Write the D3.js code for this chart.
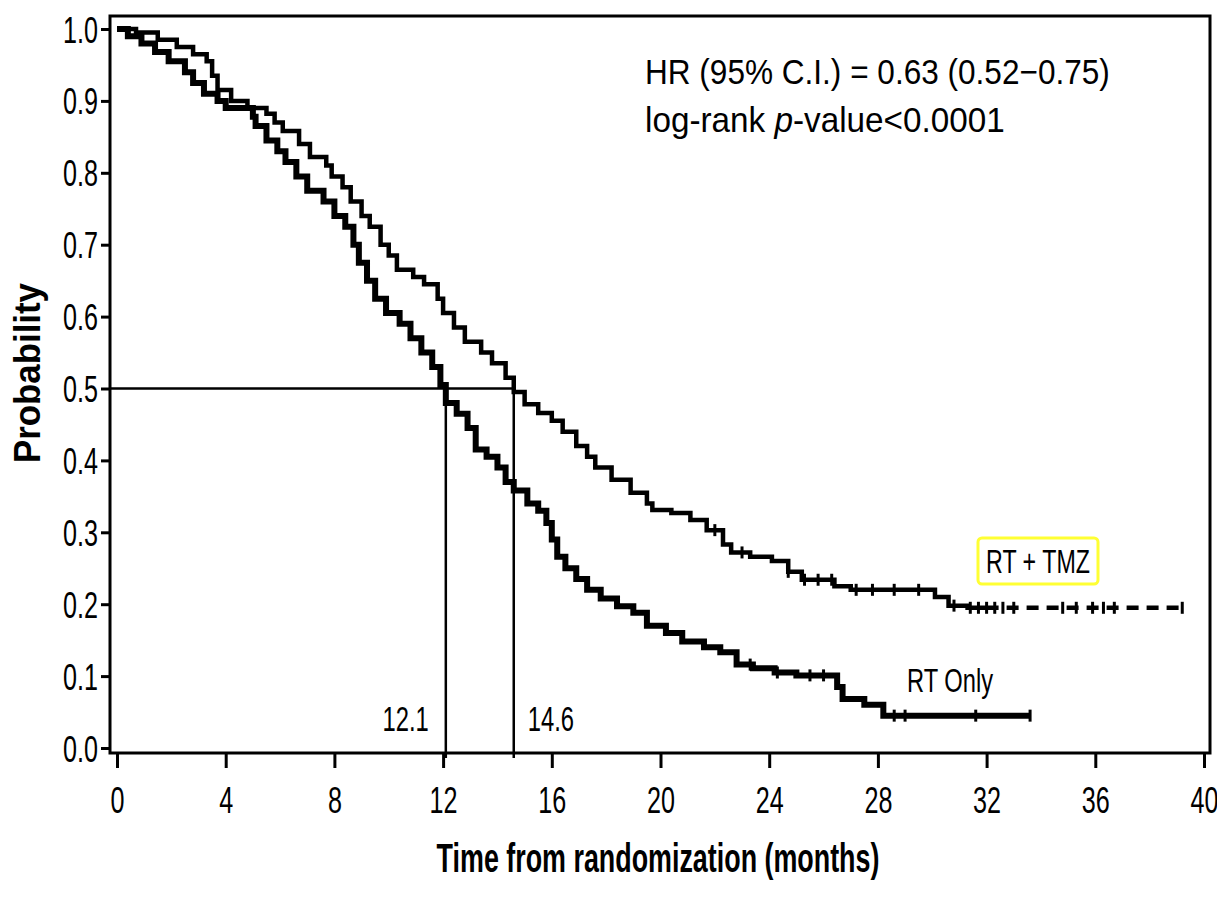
<!DOCTYPE html>
<html>
<head>
<meta charset="utf-8">
<script src="https://cdn.jsdelivr.net/npm/d3@7"></script>
<style>
  body { margin: 0; background: #fff; }
  text { font-family: "Liberation Sans", Arial, sans-serif; fill: #000; }
</style>
</head>
<body>
<div id="chart"></div>
<script>
// Kaplan-Meier steps (time in months, survival after the step)
var tmzTimes = [0, 0.7, 1.5, 2.2, 2.8, 3.3, 3.5, 3.7, 4.2, 4.8, 5.5, 5.8, 6.1, 6.7, 7.1, 7.7, 7.9, 8.3, 8.6,
    9.0, 9.3, 9.7, 10.0, 10.3, 10.9, 11.3, 11.8, 12.0, 12.4, 12.8, 13.4, 13.8, 14.3, 14.6, 15.0, 15.5, 16.0, 16.4, 16.9,
    17.3, 17.6, 18.2, 18.9, 19.5, 19.7, 20.4, 21.1, 21.7, 22.3, 22.6, 23.3, 24.1, 24.7, 25.2, 26.4, 27.0, 30.1, 30.6, 31.3, 39.3];
var tmzSurv = [1.0, 0.995, 0.985, 0.975, 0.965, 0.955, 0.935, 0.915, 0.9, 0.89, 0.882, 0.87, 0.858, 0.84, 0.822, 0.81, 0.795, 0.78, 0.76,
    0.74, 0.725, 0.7, 0.685, 0.665, 0.655, 0.645, 0.625, 0.605, 0.585, 0.565, 0.55, 0.535, 0.515, 0.495, 0.478, 0.466, 0.455, 0.44, 0.42,
    0.405, 0.39, 0.373, 0.355, 0.34, 0.331, 0.327, 0.317, 0.303, 0.283, 0.272, 0.266, 0.26, 0.245, 0.234, 0.225, 0.22, 0.21, 0.198, 0.195, 0.195];
var tmzCensored = [22.0, 23.0, 24.7, 25.3, 25.8, 26.3, 27.2, 27.8, 28.6, 29.5, 30.8, 31.4, 31.7, 32.0, 32.3, 32.6, 33.0,
    34.8, 35.3, 35.9, 36.3, 36.7, 39.2];

var rtTimes = [0, 0.4, 0.9, 1.4, 1.9, 2.5, 2.8, 3.2, 3.7, 4.0, 5.0, 5.1, 5.5, 5.9, 6.2, 6.6, 7.0, 7.6, 8.0, 8.4, 8.7, 8.9,
    9.2, 9.5, 9.9, 10.4, 10.8, 11.2, 11.6, 11.9, 12.1, 12.5, 12.9, 13.2, 13.6, 14.0, 14.3, 14.6, 15.1, 15.5, 15.8, 16.0, 16.2,
    16.5, 16.9, 17.3, 17.8, 18.4, 19.0, 19.5, 20.2, 20.8, 21.6, 22.2, 22.8, 23.4, 24.2, 25.0, 26.5, 26.7, 27.5, 28.2, 33.6];
var rtSurv = [1.0, 0.99, 0.98, 0.968, 0.955, 0.94, 0.925, 0.91, 0.9, 0.89, 0.878, 0.865, 0.845, 0.83, 0.815, 0.795, 0.775, 0.76, 0.74, 0.725, 0.7, 0.675,
    0.65, 0.625, 0.605, 0.59, 0.57, 0.55, 0.53, 0.505, 0.48, 0.465, 0.445, 0.415, 0.405, 0.39, 0.37, 0.358, 0.34, 0.33, 0.313, 0.29, 0.266,
    0.25, 0.235, 0.22, 0.208, 0.197, 0.188, 0.17, 0.16, 0.148, 0.14, 0.133, 0.116, 0.111, 0.105, 0.101, 0.085, 0.068, 0.06, 0.045, 0.045];
var rtCensored = [23.3, 24.3, 25.5, 26.0, 28.6, 29.0, 31.6, 33.6];

var medianTimes = [12.1, 14.6];
var medianLabels = ["12.1", "14.6"];
var medianLevel = 0.5;
var tmzTailStart = 32.0;

var xTicks = [0, 4, 8, 12, 16, 20, 24, 28, 32, 36, 40];
var yTicks = [0.0, 0.1, 0.2, 0.3, 0.4, 0.5, 0.6, 0.7, 0.8, 0.9, 1.0];

var width = 1217, height = 902;
var svg = d3.select("#chart").append("svg")
    .attr("width", width)
    .attr("height", height);

var x = d3.scaleLinear().domain([0, 40]).range([117, 1204]);
var y = d3.scaleLinear().domain([0, 1]).range([748, 29]);

// the original uses a tall condensed face, so squeeze a normal one sideways
var squeeze = 0.68;

// put a text at (px,py) and squeeze it to a given width
function addText(str, px, py, size, targetW, anchor, extra) {
    var t = svg.append("text")
        .attr("font-size", size)
        .attr("text-anchor", anchor || "start")
        .text(str);
    if (extra) extra(t);
    var sx = targetW / t.node().getComputedTextLength();
    t.attr("transform", "translate(" + px + "," + py + ") scale(" + sx + ",1)");
    return t;
}

// frame
svg.append("rect")
    .attr("x", 110).attr("y", 16)
    .attr("width", 1100).attr("height", 737)
    .attr("fill", "none").attr("stroke", "#000").attr("stroke-width", 3);

// x axis
var xAxis = svg.append("g")
    .attr("transform", "translate(0,753)")
    .call(d3.axisBottom(x).tickValues(xTicks).tickSize(15).tickFormat(d3.format("d")));
xAxis.select(".domain").remove();
xAxis.selectAll("line").attr("stroke-width", 3);
xAxis.selectAll("text")
    .attr("font-size", 37)
    .style("font-family", null)
    .attr("y", 0).attr("dy", null)
    .attr("transform", "translate(0,60) scale(" + squeeze + ",1)");

// y axis
var yAxis = svg.append("g")
    .attr("transform", "translate(110,0)")
    .call(d3.axisLeft(y).tickValues(yTicks).tickSize(9).tickFormat(d3.format(".1f")));
yAxis.select(".domain").remove();
yAxis.selectAll("line").attr("stroke-width", 3);
yAxis.selectAll("text")
    .attr("font-size", 37)
    .style("font-family", null)
    .attr("x", 0).attr("dy", null).attr("y", 0)
    .attr("transform", "translate(-12,13) scale(" + squeeze + ",1)");

// median guide lines
svg.append("line")
    .attr("x1", 110).attr("x2", x(medianTimes[1]))
    .attr("y1", y(medianLevel)).attr("y2", y(medianLevel))
    .attr("stroke", "#000").attr("stroke-width", 2.5);
svg.selectAll(".median")
    .data(medianTimes)
    .enter().append("line")
    .attr("x1", function(d) { return x(d); })
    .attr("x2", function(d) { return x(d); })
    .attr("y1", y(medianLevel))
    .attr("y2", 758)
    .attr("stroke", "#000").attr("stroke-width", 2.5);

svg.selectAll(".medianLabel")
    .data(medianTimes)
    .enter().append("text")
    .attr("font-size", 35)
    .attr("text-anchor", function(d, i) { return i === 0 ? "end" : "start"; })
    .attr("transform", function(d, i) {
        var px = i === 0 ? x(d) - 17 : x(d) + 14;
        return "translate(" + px + ",731) scale(" + squeeze + ",1)";
    })
    .text(function(d, i) { return medianLabels[i]; });

// step curves
function stepPoints(times, surv) {
    return times.map(function(t, i) { return [t, surv[i]]; });
}
var stepLine = d3.line()
    .x(function(d) { return x(d[0]); })
    .y(function(d) { return y(d[1]); })
    .curve(d3.curveStepAfter);

var tmzPts = stepPoints(tmzTimes, tmzSurv);
var tmzHead = tmzPts.filter(function(d) { return d[0] <= tmzTailStart; });
tmzHead.push([tmzTailStart, tmzHead[tmzHead.length - 1][1]]);
var tmzTail = [[tmzTailStart, tmzHead[tmzHead.length - 1][1]]].concat(tmzPts.filter(function(d) { return d[0] > tmzTailStart; }));

svg.append("path")
    .attr("d", stepLine(stepPoints(rtTimes, rtSurv)))
    .attr("fill", "none").attr("stroke", "#000").attr("stroke-width", 6)
    .attr("stroke-linejoin", "miter");

svg.append("path")
    .attr("d", stepLine(tmzHead))
    .attr("fill", "none").attr("stroke", "#000").attr("stroke-width", 4.5)
    .attr("stroke-linejoin", "miter");

svg.append("path")
    .attr("d", stepLine(tmzTail))
    .attr("fill", "none").attr("stroke", "#000").attr("stroke-width", 4.5)
    .attr("stroke-dasharray", "12,8");

// censor ticks
function survAt(times, surv, t) {
    var i = d3.bisectRight(times, t) - 1;
    return surv[Math.max(0, i)];
}
svg.selectAll(".censTmz")
    .data(tmzCensored)
    .enter().append("line")
    .attr("x1", function(d) { return x(d); })
    .attr("x2", function(d) { return x(d); })
    .attr("y1", function(d) { return y(survAt(tmzTimes, tmzSurv, d)) - 6; })
    .attr("y2", function(d) { return y(survAt(tmzTimes, tmzSurv, d)) + 6; })
    .attr("stroke", "#000").attr("stroke-width", 3);

svg.selectAll(".censRt")
    .data(rtCensored)
    .enter().append("line")
    .attr("x1", function(d) { return x(d); })
    .attr("x2", function(d) { return x(d); })
    .attr("y1", function(d) { return y(survAt(rtTimes, rtSurv, d)) - 6; })
    .attr("y2", function(d) { return y(survAt(rtTimes, rtSurv, d)) + 6; })
    .attr("stroke", "#000").attr("stroke-width", 3);

// statistics text
addText("HR (95% C.I.) = 0.63 (0.52\u22120.75)", 645, 84, 36, 465, "start");
var stat2 = svg.append("text").attr("font-size", 36);
stat2.append("tspan").text("log-rank ");
stat2.append("tspan").attr("font-style", "italic").text("p");
stat2.append("tspan").text("-value<0.0001");
stat2.attr("transform", "translate(645,132) scale(" + (360 / stat2.node().getComputedTextLength()) + ",1)");

// curve labels
svg.append("rect")
    .attr("x", 978).attr("y", 538)
    .attr("width", 120).attr("height", 46)
    .attr("rx", 4)
    .attr("fill", "none").attr("stroke", "#ffff33").attr("stroke-width", 3);
addText("RT + TMZ", 1038, 573, 34, 104, "middle");
addText("RT Only", 907, 692, 34, 86, "start");

// axis titles
addText("Time from randomization (months)", 658, 872, 40, 443, "middle",
    function(t) { t.attr("font-weight", "bold"); });
var prob = svg.append("text")
    .attr("text-anchor", "middle")
    .attr("font-size", 36)
    .attr("font-weight", "bold")
    .text("Probability");
prob.attr("transform", "translate(40,373) rotate(-90) scale(" + (180 / prob.node().getComputedTextLength()) + ",1)");
</script>
</body>
</html>
